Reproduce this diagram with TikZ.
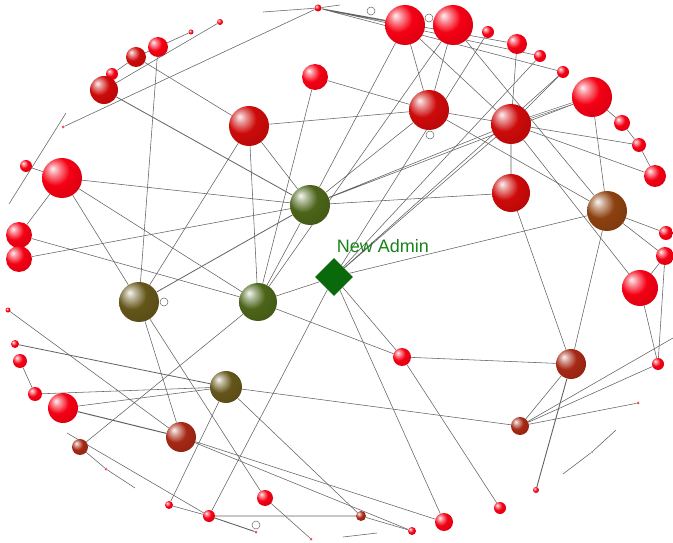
\documentclass[tikz,border=0pt]{standalone}
\usepackage{fontspec}
\setmainfont{Liberation Sans}
\usepackage{xcolor}
\usepackage{tikz}
\usetikzlibrary{shapes.geometric}
\definecolor{ballred}{RGB}{245,0,20}
\definecolor{deepred}{RGB}{205,10,10}
\definecolor{rust}{RGB}{165,40,20}
\definecolor{olive}{RGB}{100,85,25}
\definecolor{moss}{RGB}{75,100,25}
\definecolor{brownball}{RGB}{140,65,15}
\definecolor{admingreen}{RGB}{10,105,10}
\definecolor{labelgreen}{RGB}{25,130,25}
\pgfdeclarelayer{bg}
\pgfsetlayers{bg,main}
% softer sphere than the stock ball shading
\makeatletter
\pgfdeclareradialshading[tikz@ball]{sphere}{\pgfqpoint{-12bp}{12bp}}{%
    color(0bp)=(tikz@ball!5!white); color(7bp)=(tikz@ball!45!white);
    color(18bp)=(tikz@ball); color(36bp)=(tikz@ball!88!black);
    color(56bp)=(tikz@ball!65!black); color(70bp)=(tikz@ball!60!black)}
\makeatother
\tikzset{
    edge/.style={draw=black!62, line width=0.55pt},
    ball/.style={circle, inner sep=0pt},
    red/.style={ball, ball color=ballred, shading=sphere},
    dred/.style={ball, ball color=deepred, shading=sphere},
    rust/.style={ball, ball color=rust, shading=sphere},
    hub/.style={ball, ball color=#1, shading=sphere},
    dot/.style={circle, inner sep=0pt, minimum size=3pt, fill=ballred!70},
    ring/.style={circle, draw=black!60, line width=0.5pt, inner sep=0pt, minimum size=8pt},
    admin/.style={diamond, fill=admingreen, inner sep=0pt, minimum size=38pt}
}

\begin{document}
\begin{tikzpicture}[x=1pt, y=-1pt]
    \useasboundingbox (0,0) rectangle (673,543);
    % top arc
    \node[red, minimum size=40pt] (r1) at (405,25) {};
    \node[red, minimum size=40pt] (r2) at (453,25) {};
    \node[red, minimum size=7pt] (r3) at (318,8) {};
    \node[red, minimum size=6pt] (r4) at (220,22) {};
    \node[red, minimum size=5pt] (r5) at (191,32) {};
    \node[red, minimum size=20pt] (r6) at (158,47) {};
    \node[dred, minimum size=20pt] (r7) at (136,57) {};
    \node[red, minimum size=12pt] (r8) at (112,74) {};
    \node[dred, minimum size=28pt] (r9) at (104,90) {};
    \node[dot] (r10) at (63,127) {};
    \node[red, minimum size=26pt] (r51) at (315,77) {};
    \node[dred, minimum size=40pt] (r52) at (249,126) {};
    \node[dred, minimum size=40pt] (r50) at (429,110) {};
    \node[dred, minimum size=40pt] (r49) at (511,124) {};
    \node[red, minimum size=12pt] (r48) at (488,32) {};
    \node[red, minimum size=20pt] (r47) at (517,44) {};
    \node[red, minimum size=12pt] (r46) at (540,56) {};
    \node[red, minimum size=12pt] (r45) at (563,72) {};
    \node[red, minimum size=40pt] (r44) at (592,97) {};
    \node[red, minimum size=16pt] (r43) at (622,123) {};
    \node[red, minimum size=14pt] (r42) at (639,145) {};
    \node[red, minimum size=22pt] (r41) at (655,176) {};
    % left side
    \node[red, minimum size=12pt] (r11) at (26,166) {};
    \node[red, minimum size=40pt] (r12) at (62,178) {};
    \node[red, minimum size=26pt] (r13) at (19,235) {};
    \node[red, minimum size=26pt] (r14) at (19,259) {};
    \node[red, minimum size=5pt] (r15) at (8,310) {};
    \node[red, minimum size=8pt] (r16) at (15,344) {};
    \node[red, minimum size=14pt] (r17) at (20,361) {};
    \node[red, minimum size=14pt] (r18) at (35,394) {};
    \node[red, minimum size=30pt] (r19) at (63,408) {};
    \node[rust, minimum size=16pt] (r20) at (80,447) {};
    \node[dot] (t2) at (106,469) {};
    % bottom
    \node[rust, minimum size=30pt] (r21) at (181,437) {};
    \node[red, minimum size=8pt] (r22) at (169,505) {};
    \node[red, minimum size=12pt] (r23) at (209,516) {};
    \node[red, minimum size=16pt] (r25) at (265,498) {};
    \node[dot] (r26) at (256,532) {};
    \node[dot] (r26b) at (311,539) {};
    \node[rust, minimum size=10pt] (r27) at (361,516) {};
    \node[red, minimum size=8pt] (r28) at (412,531) {};
    \node[red, minimum size=18pt] (r29) at (444,522) {};
    \node[red, minimum size=12pt] (r30) at (500,508) {};
    \node[red, minimum size=6pt] (r31) at (536,490) {};
    \node[rust, minimum size=18pt] (r32) at (520,426) {};
    \node[rust, minimum size=30pt] (r33) at (571,364) {};
    \node[red, minimum size=18pt] (r35) at (402,357) {};
    % right side
    \node[red, minimum size=12pt] (r34) at (658,364) {};
    \node[dot] (t1) at (638,403) {};
    \node[red, minimum size=36pt] (r36) at (640,288) {};
    \node[red, minimum size=18pt] (r37) at (665,256) {};
    \node[red, minimum size=14pt] (r38) at (666,233) {};
    \node[dred, minimum size=38pt] (r40) at (511,193) {};
    \node[hub=brownball, minimum size=40pt] (b1) at (607,211) {};
    % inner hubs
    \node[hub=olive, minimum size=40pt] (o1) at (139,302) {};
    \node[hub=olive, minimum size=32pt] (o2) at (226,387) {};
    \node[hub=moss, minimum size=40pt] (g1) at (310,205) {};
    \node[hub=moss, minimum size=38pt] (g2) at (258,302) {};
    \node[admin] (admin) at (334,277) {};
    \node[text=labelgreen, font=\fontsize{18}{20}\selectfont] (lbl) at (383,246) {New Admin};
    % open rings
    \node[ring] (c1) at (371,11) {};
    \node[ring] (c2) at (429,18) {};
    \node[ring] (c3) at (430,135) {};
    \node[ring] (c4) at (164,302) {};
    \node[ring] (c5) at (256,525) {};
    % loose ends
    \coordinate (f1) at (263,12);
    \coordinate (f2) at (340,5);
    \coordinate (f3) at (66,113);
    \coordinate (f4) at (9,204);
    \coordinate (f5) at (135,488);
    \coordinate (f6) at (67,433);
    \coordinate (f7) at (343,537);
    \coordinate (f8) at (377,533);
    \coordinate (f9) at (563,474);
    \coordinate (f10) at (616,430);
    \coordinate (f11) at (673,338);
    \node[dot, minimum size=2pt, fill=black!50] (t3) at (592,452) {};

    \begin{pgfonlayer}{bg}
    % top arc links
    \draw[edge] (r5) -- (r6) -- (r7) -- (r8) -- (r9) (r4) -- (r9);
    \draw[edge] (f1) -- (r3) -- (f2) (r10) -- (r3);
    \draw[edge] (r3) -- (r1) (r3) -- (r47) (r3) -- (r46) (r3) -- (r45);
    \draw[edge] (r6) -- (o1) (r7) -- (r52);
    \draw[edge, line width=0.8pt] (r9) -- (g1);
    % left links
    \draw[edge] (f3) -- (f4) (r11) -- (r12);
    \draw[edge] (r12) -- (r13) (r12) -- (o1) (r12) -- (g2) (r12) -- (g1);
    \draw[edge] (r13) -- (g2) (r14) -- (g1);
    \draw[edge] (r52) -- (o1) (o1) -- (r21) (o1) -- (r25);
    \draw[edge, line width=0.8pt] (o1) -- (g1);
    \draw[edge] (r15) -- (r21) (r17) -- (r18) (r18) -- (o2) (r19) -- (o2);
    \draw[edge, line width=0.8pt] (r16) -- (o2);
    \draw[edge, line width=1pt] (r19) -- (r21);
    \draw[edge] (r21) -- (r28) (r21) -- (r29);
    \draw[edge] (r20) -- (g2) (r20) -- (t2) -- (f5) (f6) -- (r23);
    \draw[edge] (r22) -- (r23) (r22) -- (o2);
    % bottom links
    \draw[edge] (r23) -- (admin) (r23) -- (r27) (o2) -- (r27) (o2) -- (r32);
    \draw[edge, line width=0.9pt] (r23) -- (r26);
    \draw[edge] (r25) -- (r26b) (r27) -- (r28) (f7) -- (f8);
    % green hubs
    \draw[edge] (r52) -- (g2) (r51) -- (g2) (g1) -- (g2) (admin) -- (g2);
    \draw[edge] (g2) -- (r35) (r2) -- (g2);
    \draw[edge] (r1) -- (g1) (r50) -- (g1) (r49) -- (g1) (r44) -- (g1) (g1) -- (r40);
    \draw[edge] (r52) -- (r50) (r52) -- (g1);
    % upper right cluster
    \draw[edge] (r1) -- (r50) (r2) -- (r50) (r51) -- (r50) (r50) -- (r49) (r50) -- (b1);
    \draw[edge] (admin) -- (r48) (admin) -- (r46) (admin) -- (r45) (admin) -- (r49);
    \draw[edge] (admin) -- (r29) (admin) -- (r35) (admin) -- (b1);
    \draw[edge] (r1) -- (r49) (r49) -- (r42) (r49) -- (r41) (r49) -- (r40);
    \draw[edge] (r49) -- (r36) (r47) -- (r49) (r45) -- (r49);
    \draw[edge, double, double distance=1pt] (r49) -- (r44);
    \draw[edge] (r44) -- (r43) -- (r42) -- (r41) (r44) -- (b1);
    \draw[edge] (b1) -- (r38) (b1) -- (r37) (b1) -- (r33) (r2) -- (b1);
    % right side
    \draw[edge] (r40) -- (r33) (r36) -- (r37) (r36) -- (r34) (r37) -- (r34);
    \draw[edge] (r33) -- (r32) (r32) -- (r34) (r32) -- (t1) (r32) -- (f11);
    \draw[edge] (r33) -- (r35) (r35) -- (r30);
    \draw[edge, line width=0.9pt] (r33) -- (r31);
    \draw[edge] (f9) -- (t3) -- (f10);
    \end{pgfonlayer}
\end{tikzpicture}
\end{document}
